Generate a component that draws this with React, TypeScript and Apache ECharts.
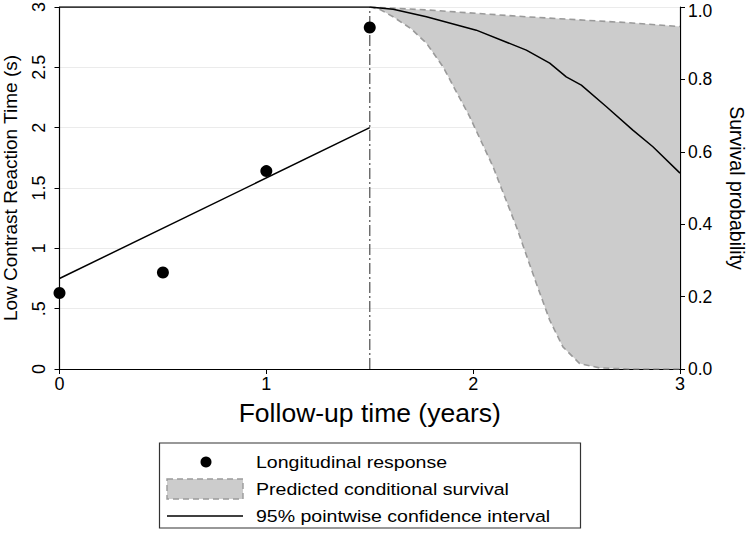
import React, { useEffect, useRef } from "react";
import * as echarts from "echarts";

// Longitudinal observations (time in years, reaction time in s)
const obsTime = [0, 0.5, 1, 1.5];
const obsValue = [0.63, 0.8, 1.64, 2.83];

// Fitted longitudinal trajectory
const fitTime = [0, 1.5];
const fitValue = [0.75, 2.0];

// Predicted conditional survival (mean)
const survTime = [0, 1.5, 1.613, 1.774, 2.015, 2.257, 2.37, 2.45, 2.523, 2.643, 2.772, 2.869, 3];
const survValue = [1, 1, 0.994, 0.973, 0.936, 0.881, 0.845, 0.807, 0.784, 0.725, 0.66, 0.614, 0.541];

// Upper pointwise 95% band
const upperTime = [1.5, 1.774, 2.257, 2.74, 3];
const upperValue = [1, 0.992, 0.973, 0.957, 0.946];

// Lower pointwise 95% band
const lowerTime = [1.5, 1.55, 1.613, 1.7, 1.774, 1.854, 1.983, 2.096, 2.209, 2.305, 2.37, 2.434, 2.515, 2.611, 2.75, 3];
const lowerValue = [1, 0.993, 0.973, 0.94, 0.9, 0.835, 0.697, 0.559, 0.393, 0.237, 0.135, 0.061, 0.015, 0.003, 0, 0];

const landmark = 1.5;

const leftTicks = [0, 0.5, 1, 1.5, 2, 2.5, 3];
const leftTickLabels = ["0", ".5", "1", "1.5", "2", "2.5", "3"];

const legendLabels = [
  "Longitudinal response",
  "Predicted conditional survival",
  "95% pointwise confidence interval",
];

const FONT = "'Liberation Sans', Arial, Helvetica, sans-serif";

const zip = (a: number[], b: number[]) => a.map((v, i) => [v, b[i]]);

export default function App() {
  const ref = useRef<HTMLDivElement>(null);
  useEffect(() => {
    if (!ref.current) return;
    const chart = echarts.init(ref.current, undefined, { renderer: "svg" });
    const upper = zip(upperTime, upperValue);
    const lower = zip(lowerTime, lowerValue);

    const rowY = [462, 489, 516];
    chart.setOption({
      animation: false,
      backgroundColor: "#ffffff",
      textStyle: { fontFamily: FONT },
      grid: {
        left: 59.5,
        right: 70,
        top: 7,
        bottom: 168,
        containLabel: false,
        outerBoundsMode: "none",
      },
      xAxis: {
        type: "value",
        min: 0,
        max: 3,
        interval: 1,
        name: "Follow-up time (years)",
        nameLocation: "middle",
        nameGap: 30,
        nameTextStyle: { fontSize: 26.5, color: "#000", fontFamily: FONT },
        axisLine: { show: true, lineStyle: { color: "#000", width: 1.2 } },
        axisTick: { show: true, length: 5, lineStyle: { color: "#000" } },
        axisLabel: { fontSize: 18, color: "#000", margin: 6, fontFamily: FONT },
        splitLine: { show: false },
      },
      yAxis: [
        {
          type: "value",
          min: 0,
          max: 3,
          interval: 0.5,
          position: "left",
          name: "Low Contrast Reaction Time (s)",
          nameLocation: "middle",
          nameGap: 40,
          nameRotate: 90,
          nameTextStyle: { fontSize: 19, color: "#000", fontFamily: FONT },
          axisLine: { show: true, lineStyle: { color: "#000", width: 1.2 } },
          axisTick: { show: true, length: 5, lineStyle: { color: "#000" } },
          axisLabel: {
            fontSize: 18,
            color: "#000",
            rotate: 90,
            margin: 12,
            fontFamily: FONT,
            formatter: (v: number) => {
              const i = leftTicks.findIndex((t) => Math.abs(t - v) < 1e-9);
              return i >= 0 ? leftTickLabels[i] : String(v);
            },
          },
          splitLine: { show: true, lineStyle: { color: "#ebebeb", width: 1 } },
        },
        {
          type: "value",
          min: 0,
          max: 1,
          interval: 0.2,
          position: "right",
          name: "Survival probability",
          nameLocation: "middle",
          nameGap: 47,
          nameRotate: -90,
          nameTextStyle: { fontSize: 19.5, color: "#000", fontFamily: FONT },
          axisLine: { show: true, lineStyle: { color: "#000", width: 1.2 } },
          axisTick: { show: true, length: 5, lineStyle: { color: "#000" } },
          axisLabel: {
            fontSize: 17.5,
            color: "#000",
            margin: 8,
            fontFamily: FONT,
            formatter: (v: number) =>
              Math.abs(v - 1) < 1e-9 ? "{top|" + v.toFixed(1) + "}" : v.toFixed(1),
            rich: {
              top: {
                fontSize: 17.5,
                color: "#000",
                fontFamily: FONT,
                padding: [7, 0, 0, 0],
              },
            },
          },
          splitLine: { show: false },
        },
      ],
      series: [
        {
          type: "custom",
          name: "band",
          xAxisIndex: 0,
          yAxisIndex: 1,
          data: [[2, 0.5]],
          silent: true,
          z: 1,
          renderItem: (_params: any, api: any) => {
            const pts = [
              ...upper.map((p) => api.coord(p)),
              ...lower
                .slice()
                .reverse()
                .map((p) => api.coord(p)),
            ];
            return {
              type: "polygon",
              shape: { points: pts },
              style: { fill: "#cccccc", stroke: "none" },
            };
          },
        },
        {
          type: "line",
          name: "upper",
          yAxisIndex: 1,
          data: upper,
          symbol: "none",
          z: 3,
          lineStyle: { color: "#9a9a9a", width: 1.6, type: [6, 4] },
        },
        {
          type: "line",
          name: "lower",
          yAxisIndex: 1,
          data: lower,
          symbol: "none",
          z: 3,
          lineStyle: { color: "#9a9a9a", width: 1.6, type: [6, 4] },
        },
        {
          type: "line",
          name: "landmark",
          yAxisIndex: 0,
          data: [
            [landmark, 0],
            [landmark, 3],
          ],
          symbol: "none",
          z: 2,
          lineStyle: { color: "#666", width: 1.4, type: [11, 3, 2, 3] },
        },
        {
          type: "line",
          name: "survival",
          yAxisIndex: 1,
          data: zip(survTime, survValue),
          symbol: "none",
          z: 4,
          lineStyle: { color: "#000", width: 1.5 },
        },
        {
          type: "line",
          name: "fit",
          yAxisIndex: 0,
          data: zip(fitTime, fitValue),
          symbol: "none",
          z: 4,
          lineStyle: { color: "#000", width: 1.5 },
        },
        {
          type: "scatter",
          name: "Longitudinal response",
          yAxisIndex: 0,
          data: zip(obsTime, obsValue),
          symbol: "circle",
          symbolSize: 12,
          z: 5,
          itemStyle: { color: "#000", opacity: 1 },
        },
      ],
      graphic: [
        {
          type: "rect",
          shape: { x: 159.5, y: 443, width: 421, height: 85 },
          style: { fill: "#fff", stroke: "#333", lineWidth: 1.2 },
          z: 10,
        },
        {
          type: "circle",
          shape: { cx: 206, cy: rowY[0], r: 5.5 },
          style: { fill: "#000" },
          z: 11,
        },
        {
          type: "rect",
          shape: { x: 167, y: rowY[1] - 10, width: 76, height: 20 },
          style: { fill: "#cccccc", stroke: "#9a9a9a", lineWidth: 1.4, lineDash: [6, 4] },
          z: 11,
        },
        {
          type: "line",
          shape: { x1: 167, y1: rowY[2], x2: 243, y2: rowY[2] },
          style: { stroke: "#000", lineWidth: 1.5 },
          z: 11,
        },
        ...legendLabels.map((t, i) => ({
          type: "text",
          x: 256,
          y: rowY[i],
          scaleX: 1.15,
          z: 11,
          style: {
            text: t,
            fontSize: 17,
            fontFamily: FONT,
            fill: "#000",
            verticalAlign: "middle",
            align: "left",
          },
        })),
      ],
    });
    return () => chart.dispose();
  }, []);
  return (
    <div
      ref={ref}
      style={{ position: "fixed", left: 0, top: 0, width: 750, height: 537 }}
    />
  );
}
